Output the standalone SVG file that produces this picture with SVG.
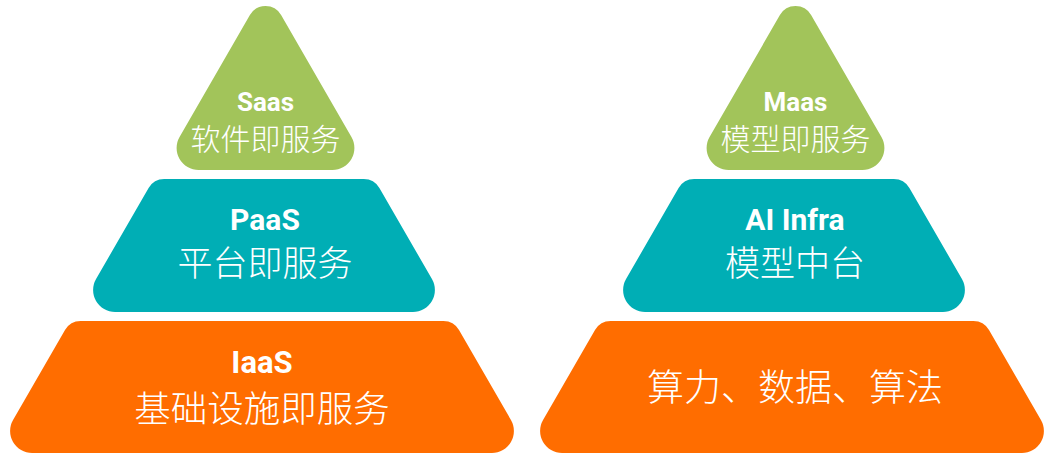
<svg xmlns="http://www.w3.org/2000/svg" width="1061" height="463" viewBox="0 0 1061 463">
<style>
.green{fill:#A2C45A}
.teal{fill:#00AEB5}
.orange{fill:#FF6D00}
text{fill:#FFFFFF;text-anchor:middle;font-family:Roboto,"Noto Sans CJK SC",sans-serif}
.en{font-weight:bold}
.cn{font-family:"Noto Sans CJK SC",sans-serif;font-weight:300}
</style>
<rect width="1061" height="463" fill="#FFFFFF"/>
<g id="saas">
<path class="green" d="M249.9 15.1 A18 18 0 0 1 281.1 15.1 L351.45 137 A22 22 0 0 1 332.4 170 L198.6 170 A22 22 0 0 1 179.55 137 Z"/>
<text class="en" x="265.5" y="111" font-size="26">Saas</text>
<text class="cn" x="265.5" y="150" font-size="30">软件即服务</text>
</g>
<g id="paas">
<path class="teal" d="M164.2 179 L363.8 179 A18 18 0 0 1 379.4 188 L431.95 279 A22 22 0 0 1 412.9 312 L115.1 312 A22 22 0 0 1 96.05 279 L148.6 188 A18 18 0 0 1 164.2 179 Z"/>
<text class="en" x="265" y="230" font-size="30">PaaS</text>
<text class="cn" x="265" y="276" font-size="35">平台即服务</text>
</g>
<g id="iaas">
<path class="orange" d="M80.6 321 L443.4 321 A18 18 0 0 1 459 330 L510.95 420 A22 22 0 0 1 491.9 453 L32.1 453 A22 22 0 0 1 13.05 420 L65 330 A18 18 0 0 1 80.6 321 Z"/>
<text class="en" x="262" y="373" font-size="31">IaaS</text>
<text class="cn" x="262" y="422" font-size="36.5">基础设施即服务</text>
</g>
<g id="maas">
<path class="green" d="M779.9 15.1 A18 18 0 0 1 811.1 15.1 L881.45 137 A22 22 0 0 1 862.4 170 L728.6 170 A22 22 0 0 1 709.55 137 Z"/>
<text class="en" x="795.5" y="111" font-size="26">Maas</text>
<text class="cn" x="795.5" y="150" font-size="30">模型即服务</text>
</g>
<g id="aiinfra">
<path class="teal" d="M694.2 179 L893.8 179 A18 18 0 0 1 909.4 188 L961.95 279 A22 22 0 0 1 942.9 312 L645.1 312 A22 22 0 0 1 626.05 279 L678.6 188 A18 18 0 0 1 694.2 179 Z"/>
<text class="en" x="795" y="230" font-size="30">AI Infra</text>
<text class="cn" x="795" y="276" font-size="35">模型中台</text>
</g>
<g id="base">
<path class="orange" d="M610.6 321 L973.4 321 A18 18 0 0 1 989 330 L1040.95 420 A22 22 0 0 1 1021.9 453 L562.1 453 A22 22 0 0 1 543.05 420 L595 330 A18 18 0 0 1 610.6 321 Z"/>
<text class="cn" x="795" y="401" font-size="37">算力、数据、算法</text>
</g>
<g id="connectors"></g>
</svg>
